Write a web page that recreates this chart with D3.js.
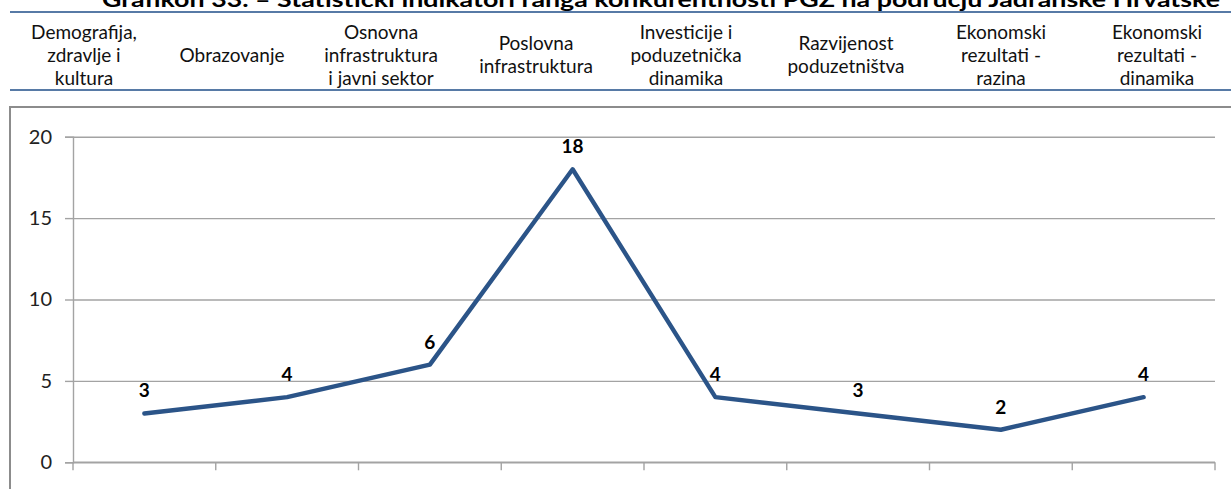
<!DOCTYPE html>
<html>
<head>
<meta charset="utf-8">
<script src="https://cdn.jsdelivr.net/npm/d3@7/dist/d3.min.js"></script>
<style>
  html, body { margin: 0; padding: 0; background: #fff; }
  svg { display: block; }
</style>
</head>
<body>
<svg id="chart" width="1231" height="489"></svg>
<script>
// Competitiveness indicator groups (header labels, one line per array entry)
const categories = [
  ["Demografija,", "zdravlje i", "kultura"],
  ["Obrazovanje"],
  ["Osnovna", "infrastruktura", "i javni sektor"],
  ["Poslovna", "infrastruktura"],
  ["Investicije i", "poduzetnička", "dinamika"],
  ["Razvijenost", "poduzetništva"],
  ["Ekonomski", "rezultati -", "razina"],
  ["Ekonomski", "rezultati -", "dinamika"]
];
const rankValues = [3, 4, 6, 18, 4, 3, 2, 4];
const yTicks = [0, 5, 10, 15, 20];
const titleText = "Grafikon 33. – Statistički indikatori ranga konkurentnosti PGŽ na području Jadranske Hrvatske";

// Layout
const W = 1231, H = 489;
const plot = { left: 73, right: 1215, top: 136.7, bottom: 462.3 };
const headerCenters = [84, 232, 381, 536, 686, 846, 1001, 1157];
const font = "Lato, 'Open Sans', sans-serif";
const lineColor = "#2B5488";
const gridColor = "#A3A3A3";

const svg = d3.select("#chart");
const keys = categories.map(c => c.join(" "));

// Title (runs past the top edge of the page)
svg.append("text")
  .attr("x", 102).attr("y", 7)
  .attr("textLength", 1118).attr("lengthAdjust", "spacingAndGlyphs")
  .attr("font-family", font).attr("font-weight", "bold").attr("font-size", 21)
  .attr("fill", "#000")
  .text(titleText);

// Header rules
[12, 90].forEach(y => {
  svg.append("line")
    .attr("x1", 10).attr("x2", W).attr("y1", y).attr("y2", y)
    .attr("stroke", "#1F4E89").attr("stroke-width", 1.5);
});

// Header category labels
const lineGap = 23;
const header = svg.append("g");
categories.forEach((lines, i) => {
  const t = header.append("text")
    .attr("text-anchor", "middle")
    .attr("font-family", font).attr("font-size", 19).attr("fill", "#111");
  const y0 = 55 - (lines.length - 1) * lineGap / 2 + 6.5;
  lines.forEach((ln, j) => {
    t.append("tspan").attr("x", headerCenters[i]).attr("y", y0 + j * lineGap).text(ln);
  });
});

// Chart frame
svg.append("rect")
  .attr("x", 10).attr("y", 107).attr("width", W + 20).attr("height", H)
  .attr("fill", "none").attr("stroke", "#8C8C8C").attr("stroke-width", 2);

// Scales
const x = d3.scaleBand().domain(keys).range([plot.left, plot.right]).padding(0);
const y = d3.scaleLinear().domain([0, 20]).range([plot.bottom, plot.top]);
const cx = k => x(k) + x.bandwidth() / 2;

// Horizontal gridlines + y axis
const yAxis = d3.axisLeft(y).tickValues(yTicks).tickSize(8).tickPadding(13).tickFormat(d3.format("d"));
const gy = svg.append("g").attr("transform", `translate(${plot.left},0)`).call(yAxis);
gy.select(".domain").attr("stroke", gridColor).attr("stroke-width", 1.4);
gy.selectAll(".tick line").attr("stroke", gridColor).attr("stroke-width", 1.4);
gy.selectAll(".tick text")
  .attr("font-family", font).attr("font-size", 20).attr("fill", "#222");
gy.selectAll(".tick").append("line")
  .attr("x1", 0).attr("x2", plot.right - plot.left)
  .attr("stroke", gridColor).attr("stroke-width", 1.4);

// x axis with boundary ticks
const boundaries = keys.map(k => x(k)).concat([plot.right]);
svg.append("line")
  .attr("x1", plot.left).attr("x2", plot.right)
  .attr("y1", y(0)).attr("y2", y(0))
  .attr("stroke", gridColor).attr("stroke-width", 1.4);
svg.append("g").selectAll("line").data(boundaries).join("line")
  .attr("x1", d => d).attr("x2", d => d)
  .attr("y1", y(0)).attr("y2", y(0) + 8)
  .attr("stroke", gridColor).attr("stroke-width", 1.4);

// Series line
const pts = keys.map((k, i) => ({ k, v: rankValues[i] }));
svg.append("path")
  .datum(pts)
  .attr("fill", "none")
  .attr("stroke", lineColor).attr("stroke-width", 4.4)
  .attr("stroke-linejoin", "round").attr("stroke-linecap", "round")
  .attr("d", d3.line().x(d => cx(d.k)).y(d => y(d.v)));

// Value labels
svg.append("g").selectAll("text").data(pts).join("text")
  .attr("x", d => cx(d.k))
  .attr("y", d => y(d.v) - 16)
  .attr("text-anchor", "middle")
  .attr("font-family", font).attr("font-weight", "bold").attr("font-size", 19)
  .attr("fill", "#000")
  .text(d => d.v);
</script>
</body>
</html>
